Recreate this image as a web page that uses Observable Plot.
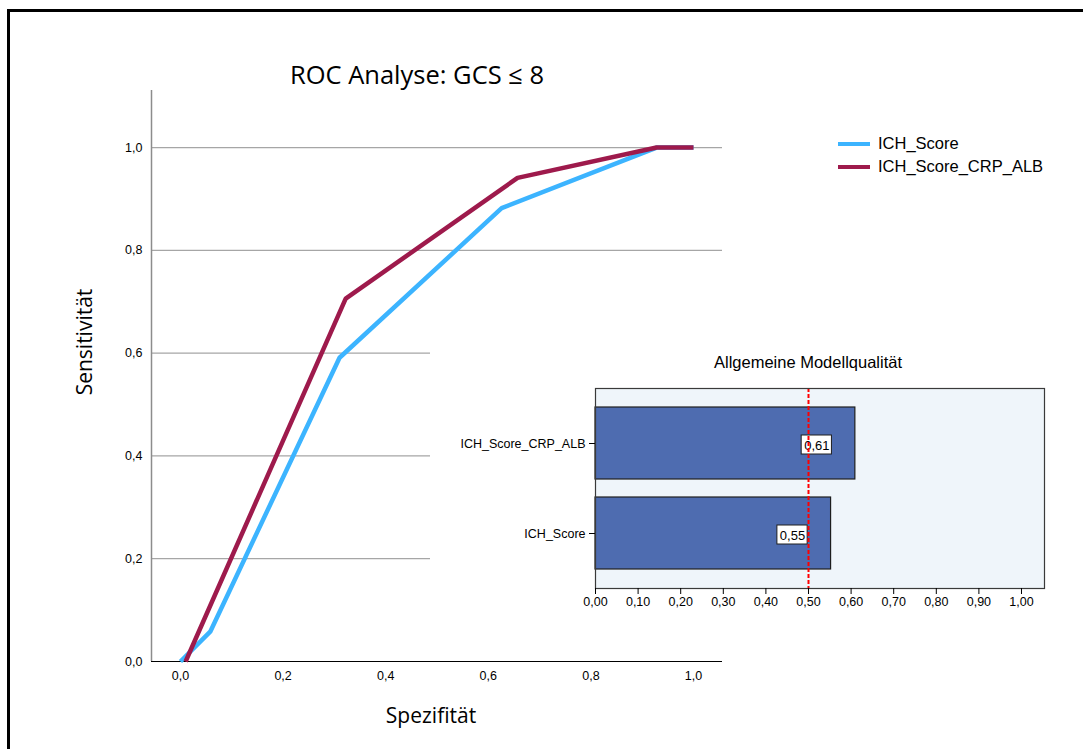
<!DOCTYPE html>
<html>
<head>
<meta charset="utf-8">
<script src="https://cdn.jsdelivr.net/npm/d3@7"></script>
<script src="https://cdn.jsdelivr.net/npm/@observablehq/plot@0.6"></script>
<style>
  html, body { margin: 0; padding: 0; background: #fff; }
  #page { position: relative; width: 1083px; height: 749px; overflow: hidden; background: #fff; }
  #border { position: absolute; left: 7px; top: 9px; width: 1200px; height: 900px; border: 3px solid #000; box-sizing: border-box; }
  .abs { position: absolute; }
  #title { left: 217px; top: 57px; width: 400px; text-align: center; font-family: "Open Sans", sans-serif; font-size: 25.5px; color: #000; white-space: nowrap; }
  #ylab { left: 84px; top: 342px; transform: translate(-50%, -50%) rotate(-90deg); font-family: "Open Sans", sans-serif; font-size: 21px; color: #000; white-space: nowrap; }
  #xlab { left: 431px; top: 715px; transform: translate(-50%, -50%); font-family: "Open Sans", sans-serif; font-size: 21px; color: #000; white-space: nowrap; }
  #legend { left: 838px; top: 132px; font-family: "Liberation Sans", Arial, sans-serif; font-size: 16.5px; color: #000; }
  .item { display: flex; align-items: center; height: 23px; }
  .sw { width: 32px; height: 4px; margin-right: 8px; }
  #inset { left: 430px; top: 346px; width: 630px; height: 280px; background: #fff; }
  #insetTitle { left: 0; top: 7px; width: 756px; text-align: center; font-family: "Liberation Sans", Arial, sans-serif; font-size: 16.5px; color: #000; white-space: nowrap; }
</style>
</head>
<body>
<div id="page">
  <div id="border"></div>
  <div id="main" class="abs" style="left:0;top:0;"></div>
  <div id="title" class="abs">ROC Analyse: GCS ≤ 8</div>
  <div id="ylab" class="abs">Sensitivität</div>
  <div id="xlab" class="abs">Spezifität</div>
  <div id="legend" class="abs"></div>
  <div id="inset" class="abs">
    <div id="insetTitle" class="abs">Allgemeine Modellqualität</div>
    <div id="insetPlot" class="abs" style="left:0;top:0;"></div>
  </div>
</div>
<script>
// ---------- data ----------
const seriesNames = ["ICH_Score", "ICH_Score_CRP_ALB"];
const seriesColors = ["#3cb4ff", "#9e1a4c"];

const ichX = [0.0, 0.058, 0.31, 0.626, 0.928, 1.0];
const ichY = [0.0, 0.058, 0.591, 0.882, 1.0, 1.0];

const crpX = [0.01, 0.322, 0.657, 0.928, 1.0];
const crpY = [0.0, 0.706, 0.941, 1.0, 1.0];

const mainTicks = [0, 0.2, 0.4, 0.6, 0.8, 1.0];
const gridTicks = [0.2, 0.4, 0.6, 0.8, 1.0];

const aucModels = ["ICH_Score_CRP_ALB", "ICH_Score"];
const aucValues = [0.61, 0.553];
const aucLabels = ["0,61", "0,55"];
const aucRef = [0.5];
const insetTicks = [0, 0.1, 0.2, 0.3, 0.4, 0.5, 0.6, 0.7, 0.8, 0.9, 1.0];

// ---------- tables ----------
const rocIch = ichX.map((x, i) => ({x, y: ichY[i], s: seriesNames[0]}));
const rocCrp = crpX.map((x, i) => ({x, y: crpY[i], s: seriesNames[1]}));
const auc = aucModels.map((m, i) => ({model: m, value: aucValues[i], label: aucLabels[i]}));

const fmt1 = d => d.toFixed(1).replace(".", ",");
const fmt2 = d => d.toFixed(2).replace(".", ",");

// ---------- main ROC plot ----------
const xMin = -0.0565, xMax = 1.0565, yMax = 1.111;
const main = Plot.plot({
  width: 760, height: 749,
  marginLeft: 151, marginRight: 38, marginTop: 90, marginBottom: 88,
  style: {fontFamily: "Liberation Sans, Arial, sans-serif", fontSize: "12.5px", color: "#000", background: "transparent"},
  x: {domain: [xMin, xMax]},
  y: {domain: [0, yMax]},
  marks: [
    Plot.ruleY(gridTicks, {x1: xMin, x2: xMax, stroke: "#a6a6a6", strokeWidth: 1.2}),
    Plot.ruleX([xMin], {y1: 0, y2: yMax, stroke: "#8c8c8c", strokeWidth: 1.5}),
    Plot.ruleY([0], {x1: xMin, x2: xMax, stroke: "#000", strokeWidth: 1.2}),
    Plot.axisY({ticks: mainTicks, tickFormat: fmt1, tickSize: 0, tickPadding: 9, label: null}),
    Plot.axisX({ticks: mainTicks, tickFormat: fmt1, tickSize: 0, tickPadding: 10, label: null}),
    Plot.line(rocIch, {x: "x", y: "y", stroke: seriesColors[0], strokeWidth: 4.5, strokeLinecap: "butt", strokeLinejoin: "miter"}),
    Plot.line(rocCrp, {x: "x", y: "y", stroke: seriesColors[1], strokeWidth: 4.5, strokeLinecap: "butt", strokeLinejoin: "miter"})
  ]
});
document.getElementById("main").appendChild(main);

// ---------- legend ----------
const leg = document.getElementById("legend");
seriesNames.forEach((n, i) => {
  const it = document.createElement("div");
  it.className = "item";
  const sw = document.createElement("div");
  sw.className = "sw";
  sw.style.background = seriesColors[i];
  const t = document.createElement("span");
  t.textContent = n;
  it.appendChild(sw); it.appendChild(t);
  leg.appendChild(it);
});

// ---------- inset AUC bar chart ----------
const inset = Plot.plot({
  width: 630, height: 280,
  marginLeft: 165, marginRight: 16, marginTop: 42, marginBottom: 38,
  style: {fontFamily: "Liberation Sans, Arial, sans-serif", fontSize: "12.5px", color: "#000", background: "transparent"},
  x: {domain: [0, 1.054]},
  y: {domain: aucModels, paddingInner: 0.2, paddingOuter: 0.211},
  marks: [
    Plot.frame({fill: "#eff5fa", stroke: "none"}),
    Plot.barX(auc, {x: "value", y: "model", fill: "#4e6cb0", stroke: "#1e1e1e", strokeWidth: 1.2}),
    Plot.rect(auc, {x1: d => d.value - 0.126, x2: d => d.value - 0.055, y: "model", fill: "#fff", stroke: "#1e1e1e", strokeWidth: 1, insetTop: 28, insetBottom: 25}),
    Plot.text(auc, {x: d => d.value - 0.0905, y: "model", text: "label", fill: "#000", fontSize: 13, dy: 2}),
    Plot.ruleX(aucRef, {stroke: "#ff0000", strokeWidth: 2, strokeDasharray: "4,2"}),
    Plot.frame({stroke: "#3a3a3a", strokeWidth: 1.2}),
    Plot.axisX({ticks: insetTicks, tickFormat: fmt2, tickSize: 6, tickPadding: 3, label: null, stroke: "#000"}),
    Plot.axisY({tickSize: 6, tickPadding: 4, label: null})
  ]
});
document.getElementById("insetPlot").appendChild(inset);
</script>
</body>
</html>
